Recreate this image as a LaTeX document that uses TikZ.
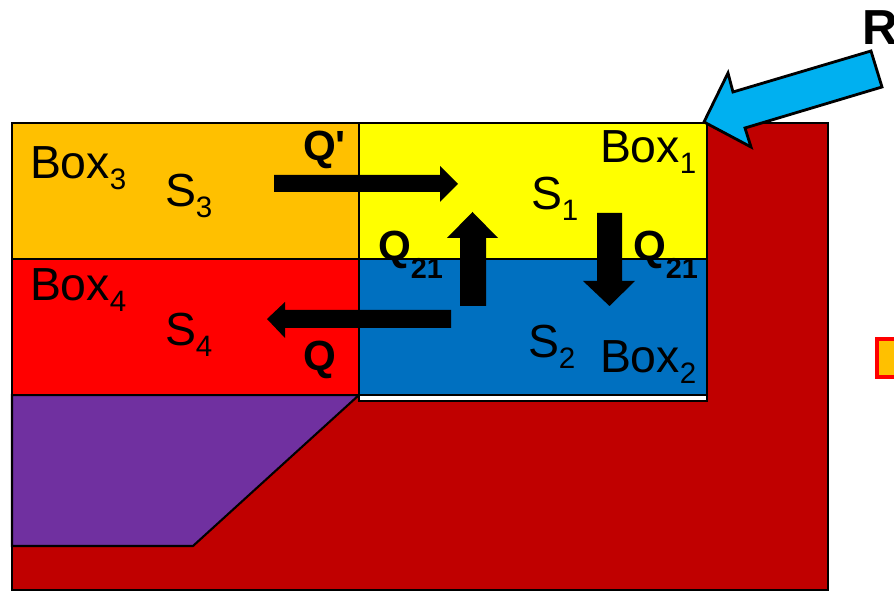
\documentclass[tikz,border=0pt]{standalone}
\usepackage{fontspec}
\setmainfont{Liberation Sans}
\usepackage{tikz}
\usetikzlibrary{calc}
\definecolor{boxorange}{HTML}{FFC000}
\definecolor{boxyellow}{HTML}{FFFF00}
\definecolor{boxred}{HTML}{FF0000}
\definecolor{boxblue}{HTML}{0070C0}
\definecolor{bedpurple}{HTML}{7030A0}
\definecolor{bankred}{HTML}{C00000}
\definecolor{rainblue}{HTML}{00B0F0}
% lowered indices for box and flow labels
\newcommand{\lowidx}[1]{\raisebox{-0.11cm}{\fontsize{8.4}{9}\selectfont #1}}
\newcommand{\qidx}[1]{\raisebox{-0.18cm}{\fontsize{8.2}{9}\selectfont\bfseries #1}}

\begin{document}
\begin{tikzpicture}[font=\fontsize{13.2}{15}\selectfont, line width=0.6pt,
  lbl/.style={anchor=base west, inner sep=0pt},
  qlbl/.style={lbl, font=\fontsize{12}{14}\selectfont\bfseries}]
  \useasboundingbox (0,0) rectangle (8.94,5.92);
  \clip (0,0) rectangle (8.94,5.92);

  % bank and bed
  \filldraw[fill=bankred] (0.12,0.02) rectangle (8.28,4.69);
  \filldraw[fill=bedpurple] (0.12,1.97) -- (3.59,1.97) -- (1.93,0.46) -- (0.12,0.46) -- cycle;
  \filldraw[fill=white] (3.59,1.91) rectangle (7.07,1.97);

  % the four boxes
  \filldraw[fill=boxorange] (0.12,3.33) rectangle (3.59,4.69);
  \filldraw[fill=boxyellow] (3.59,3.33) rectangle (7.07,4.69);
  \filldraw[fill=boxred] (0.12,1.97) rectangle (3.59,3.33);
  \filldraw[fill=boxblue] (3.59,1.97) rectangle (7.07,3.33);

  % flows between boxes
  \fill (2.74,4.00) -- (4.40,4.00) -- (4.40,3.90) -- (4.58,4.08) -- (4.40,4.26) -- (4.40,4.17) -- (2.74,4.17) -- cycle;
  \fill (4.51,2.64) -- (2.85,2.64) -- (2.85,2.54) -- (2.67,2.73) -- (2.85,2.90) -- (2.85,2.82) -- (4.51,2.82) -- cycle;
  \fill (4.60,2.86) -- (4.86,2.86) -- (4.86,3.54) -- (4.98,3.54) -- (4.725,3.80) -- (4.47,3.54) -- (4.60,3.54) -- cycle;
  \fill (5.97,3.79) -- (6.22,3.79) -- (6.22,3.11) -- (6.35,3.11) -- (6.095,2.86) -- (5.83,3.11) -- (5.97,3.11) -- cycle;

  % incoming R
  \filldraw[fill=rainblue, line width=0.8pt, line join=miter] (7.04,4.70) -- (7.28,5.19) -- (7.33,5.00) -- (8.71,5.41) -- (8.82,5.05) -- (7.45,4.64) -- (7.51,4.45) -- cycle;
  \filldraw[fill=boxorange, draw=boxred, line width=0.9pt] (8.77,2.15) rectangle (9.20,2.53);

  \node[lbl] (box3) at (0.29,4.13) {Box\lowidx{3}};
  \node[lbl] (s3) at (1.64,3.85) {S\lowidx{3}};
  \node[lbl] (box4) at (0.29,2.91) {Box\lowidx{4}};
  \node[lbl] (s4) at (1.64,2.46) {S\lowidx{4}};
  \node[lbl] (box1) at (5.99,4.29) {Box\lowidx{1}};
  \node[lbl] (s1) at (5.30,3.82) {S\lowidx{1}};
  \node[lbl] (box2) at (5.99,2.19) {Box\lowidx{2}};
  \node[lbl] (s2) at (5.27,2.34) {S\lowidx{2}};
  \node[qlbl] (qprime) at (3.02,4.31) {Q\textquotesingle};
  \node[qlbl] (q) at (3.02,2.21) {Q};
  \node[qlbl] (q21up) at (3.77,3.31) {Q\qidx{21}};
  \node[qlbl] (q21down) at (6.32,3.31) {Q\qidx{21}};
  \node[lbl, font=\fontsize{14}{16}\selectfont\bfseries] (r) at (8.61,5.47) {R};
\end{tikzpicture}
\end{document}
